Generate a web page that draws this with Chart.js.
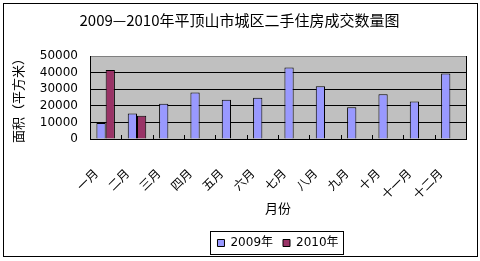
<!DOCTYPE html>
<html><head><meta charset="utf-8">
<script src="https://cdn.jsdelivr.net/npm/chart.js@4/dist/chart.umd.min.js"></script>
<style>html,body{margin:0;padding:0;background:#fff}#wrap{width:480px;height:261px}</style>
</head><body><div id="wrap"><canvas id="c" width="480" height="261"></canvas></div>
<script>
const categories = ['一月','二月','三月','四月','五月','六月','七月','八月','九月','十月','十一月','十二月'];
const series2009 = [9700, 15400, 21200, 28000, 23700, 24900, 43100, 31800, 19100, 26900, 22600, 39500];
const series2010 = [41500, 14000, null, null, null, null, null, null, null, null, null, null];
const yTicks = [0, 10000, 20000, 30000, 40000, 50000];

const CJK = '"Noto Sans CJK SC", sans-serif';
const NUM = '"DejaVu Sans", "Noto Sans CJK SC", sans-serif';

const decor = {
  id: 'decor',
  beforeDraw(chart) {
    const {ctx, chartArea: a} = chart;
    ctx.save();
    ctx.fillStyle = '#fff';
    ctx.fillRect(0, 0, chart.width, chart.height);
    ctx.fillStyle = '#C0C0C0';
    ctx.fillRect(a.left, a.top, a.right - a.left, a.bottom - a.top);
    ctx.restore();
  },
  afterDraw(chart) {
    const {ctx, chartArea: a} = chart;
    const xs = chart.scales.x;
    ctx.save();
    ctx.strokeStyle = '#000';
    ctx.lineWidth = 1;
    ctx.beginPath();
    ctx.moveTo(Math.round(a.right) + 0.5, a.top);
    ctx.lineTo(Math.round(a.right) + 0.5, a.bottom);
    ctx.stroke();
    for (let i = 0; i <= categories.length; i++) {
      const x = Math.round(xs.getPixelForValue(i - 0.5)) + 0.5;
      ctx.beginPath();
      ctx.moveTo(x, a.bottom);
      ctx.lineTo(x, a.bottom - 4);
      ctx.stroke();
    }
    const lg = chart.legend;
    if (lg && lg.legendHitBoxes && lg.legendHitBoxes.length) {
      const hb = lg.legendHitBoxes;
      const l = Math.min(...hb.map(h => h.left)) - 7;
      const r = Math.max(...hb.map(h => h.left + h.width)) + 5;
      const t = Math.min(...hb.map(h => h.top)) - 6;
      const b = Math.max(...hb.map(h => h.top + h.height)) + 5;
      ctx.strokeRect(Math.round(l) + 0.5, Math.round(t) + 0.5, Math.round(r - l), Math.round(b - t));
    }
    ctx.strokeRect(3.5, 3.5, 474, 253);
    ctx.restore();
  }
};

new Chart(document.getElementById('c'), {
  type: 'bar',
  data: {
    labels: categories,
    datasets: [
      {label: '2009年', data: series2009, backgroundColor: '#9999FF', borderColor: '#000', borderWidth: 1,
       categoryPercentage: 0.59, barPercentage: 1.0},
      {label: '2010年', data: series2010, backgroundColor: '#993366', borderColor: '#000', borderWidth: 1,
       categoryPercentage: 0.59, barPercentage: 1.0}
    ]
  },
  options: {
    responsive: false,
    animation: false,
    devicePixelRatio: 1,
    layout: {padding: {left: 10, right: 11, top: 0, bottom: 2}},
    plugins: {
      title: {display: true, text: '2009—2010年平顶山市城区二手住房成交数量图', color: '#000',
        font: {family: CJK, size: 15, weight: 'normal'}, padding: {top: 11, bottom: 27}},
      legend: {display: true, position: 'bottom', fullSize: false,
        labels: {color: '#000', boxWidth: 7, boxHeight: 7, padding: 10,
          font: {family: NUM, size: 12}}},
      tooltip: {enabled: false}
    },
    scales: {
      x: {
        afterFit(s) { s.height = 88; },
        grid: {display: false},
        border: {display: true, color: '#000'},
        ticks: {color: '#000', font: {family: CJK, size: 12}, maxRotation: 45, minRotation: 45,
          autoSkip: false, padding: 19, labelOffset: -10},
        title: {display: true, text: '月份', color: '#000', font: {family: CJK, size: 13}, padding: {top: 0, bottom: 11}}
      },
      y: {
        min: 0, max: 50000,
        afterBuildTicks(s) { s.ticks = yTicks.map(v => ({value: v})); },
        afterFit(s) { s.width = 80; },
        grid: {color: ctx => ctx.tick && ctx.tick.value === 50000 ? '#808080' : '#000', drawTicks: false},
        border: {display: true, color: '#000'},
        ticks: {color: '#000', font: {family: NUM, size: 12}, padding: 12, autoSkip: false,
          callback: v => String(v)},
        title: {display: true, text: '面积（平方米）', color: '#000', font: {family: CJK, size: 13}, padding: {top: 0, bottom: 2}}
      }
    }
  },
  plugins: [decor]
});
</script></body></html>
